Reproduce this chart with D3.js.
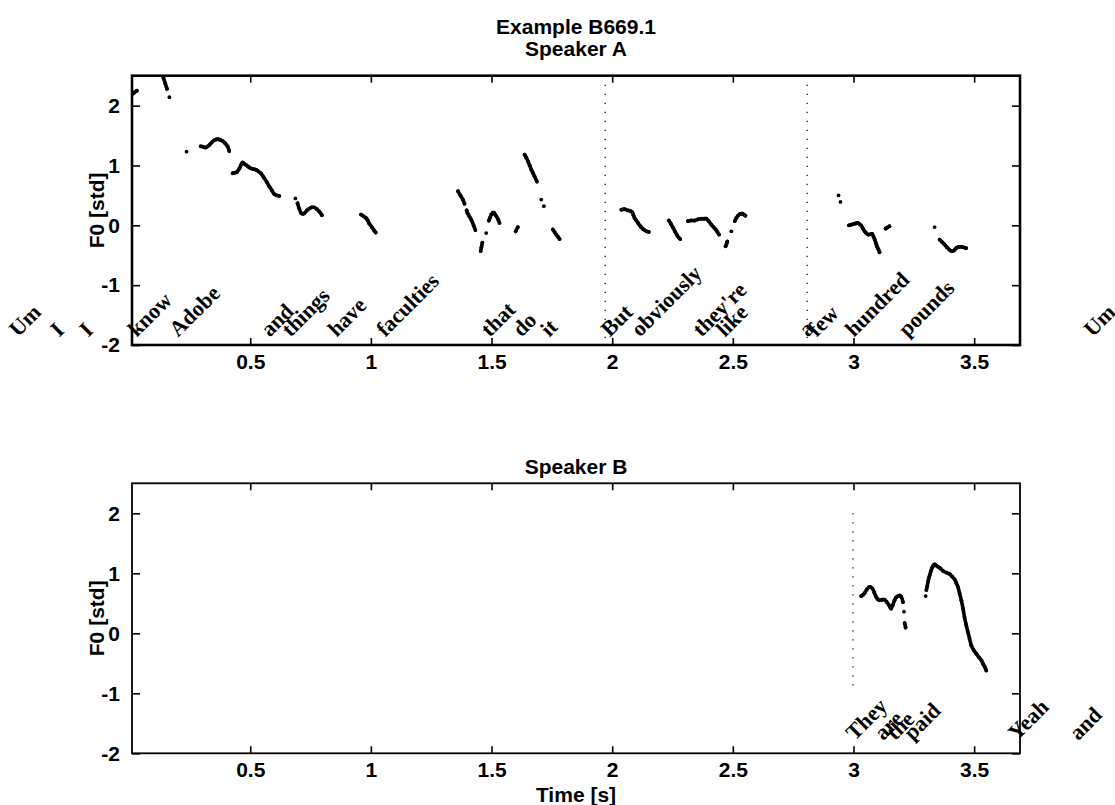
<!DOCTYPE html>
<html><head><meta charset="utf-8">
<script src="https://cdn.jsdelivr.net/npm/d3@7"></script>
<style>body{margin:0;background:#fff}</style></head><body>
<svg id="c" width="1115" height="805"></svg>
<script>
// ---------- data ----------
const xDomain = [0.01, 3.69];
const yDomain = [-2, 2.5];
const xTicks = [0.5, 1, 1.5, 2, 2.5, 3, 3.5];
const yTicks = [-2, -1, 0, 1, 2];

const wordsA = ["Um","I","I","know","Adobe","and","things","have","faculties","that","do","it","But","obviously","they're","like","a","few","hundred","pounds","Um"];
const wordTimesA = [-0.462,-0.292,-0.171,0.03,0.201,0.581,0.667,0.858,1.059,1.493,1.624,1.739,1.99,2.115,2.37,2.467,2.81,2.847,3.002,3.223,3.991];
const wordsB = ["They","are","the","paid","Yeah","and"];
const wordTimesB = [3.005,3.123,3.172,3.245,3.678,3.931];

const boundariesA = [1.971, 2.808];
const boundaryRangeA = [-2, 2.35];
const boundariesB = [2.998];
const boundaryRangeB = [-1, 2];

const f0A = [
 [[0.01,2.19],[0.02,2.22],[0.03,2.25]],
 [[0.13,2.6],[0.14,2.47],[0.147,2.38],[0.155,2.28]],
 [[0.165,2.14]],
 [[0.236,1.23]],
 [[0.295,1.32],[0.305,1.31],[0.316,1.30],[0.33,1.34],[0.344,1.40],[0.355,1.43],[0.365,1.44],[0.375,1.43],[0.385,1.41],[0.396,1.37],[0.406,1.32],[0.413,1.24]],
 [[0.427,0.87],[0.437,0.88],[0.445,0.89],[0.455,0.95],[0.462,1.01],[0.468,1.05],[0.475,1.03],[0.482,1.01],[0.492,0.98],[0.503,0.95],[0.513,0.94],[0.523,0.93],[0.534,0.90],[0.544,0.87],[0.551,0.83],[0.558,0.79],[0.569,0.72],[0.579,0.65],[0.59,0.58],[0.6,0.52],[0.61,0.50],[0.62,0.49]],
 [[0.687,0.45]],
 [[0.696,0.37],[0.703,0.28],[0.71,0.21],[0.717,0.19],[0.724,0.20],[0.735,0.25],[0.745,0.28],[0.755,0.30],[0.765,0.30],[0.776,0.27],[0.786,0.23],[0.797,0.17]],
 [[0.959,0.18],[0.97,0.15],[0.98,0.12],[0.987,0.08],[0.993,0.03],[1.004,-0.03],[1.014,-0.09],[1.02,-0.12]],
 [[1.361,0.57],[1.371,0.50],[1.381,0.43],[1.388,0.36]],
 [[1.397,0.25],[1.40,0.21],[1.408,0.15],[1.416,0.095],[1.426,-0.005],[1.433,-0.08]],
 [[1.478,-0.13]],
 [[1.455,-0.43],[1.458,-0.37],[1.462,-0.29]],
 [[1.489,0.08],[1.494,0.13],[1.499,0.18],[1.505,0.21],[1.51,0.21],[1.515,0.18],[1.52,0.15],[1.527,0.10],[1.533,0.04]],
 [[1.60,-0.10],[1.609,-0.03]],
 [[1.637,1.18],[1.644,1.13],[1.651,1.07],[1.658,1.0],[1.665,0.93],[1.672,0.87],[1.678,0.82],[1.688,0.73]],
 [[1.706,0.43]],
 [[1.717,0.32]],
 [[1.754,-0.07],[1.761,-0.11],[1.768,-0.155],[1.775,-0.19],[1.782,-0.23]],
 [[2.038,0.26],[2.05,0.27],[2.065,0.25],[2.075,0.24],[2.083,0.22],[2.088,0.17],[2.093,0.12],[2.1,0.08],[2.107,0.04],[2.114,0.0],[2.12,-0.03],[2.127,-0.06],[2.134,-0.08],[2.143,-0.10],[2.152,-0.11]],
 [[2.235,0.08],[2.244,0.02],[2.252,-0.04],[2.26,-0.10],[2.268,-0.16],[2.275,-0.20],[2.282,-0.23]],
 [[2.314,0.07],[2.328,0.08],[2.342,0.08],[2.356,0.10],[2.37,0.11],[2.38,0.11],[2.39,0.11],[2.40,0.07],[2.411,0.01],[2.42,-0.03],[2.429,-0.07],[2.436,-0.11],[2.443,-0.155]],
 [[2.47,-0.35],[2.474,-0.31],[2.477,-0.27]],
 [[2.494,-0.10]],
 [[2.508,0.07],[2.514,0.12],[2.521,0.16],[2.53,0.19],[2.539,0.195],[2.546,0.18],[2.552,0.16]],
 [[2.938,0.50]],
 [[2.946,0.39]],
 [[2.981,0.0],[2.99,0.01],[2.998,0.02],[3.008,0.03],[3.018,0.04],[3.025,0.02],[3.032,-0.005],[3.039,-0.05],[3.046,-0.10],[3.053,-0.13],[3.06,-0.155],[3.069,-0.15],[3.078,-0.145],[3.083,-0.19],[3.088,-0.24],[3.093,-0.30],[3.097,-0.35],[3.103,-0.40],[3.108,-0.45]],
 [[3.133,-0.055],[3.141,-0.035],[3.149,-0.015]],
 [[3.336,-0.03]],
 [[3.357,-0.24],[3.367,-0.28],[3.377,-0.32],[3.388,-0.37],[3.398,-0.41],[3.405,-0.43],[3.412,-0.43],[3.419,-0.41],[3.426,-0.38],[3.436,-0.36],[3.447,-0.36],[3.457,-0.37],[3.467,-0.38]]
];

const f0B = [
 [[3.032,0.62],[3.039,0.64],[3.046,0.67],[3.055,0.73],[3.064,0.77],[3.071,0.77],[3.078,0.75],[3.085,0.69],[3.092,0.62],[3.1,0.57],[3.108,0.55],[3.118,0.56],[3.129,0.56],[3.138,0.52],[3.147,0.47],[3.152,0.43],[3.156,0.41],[3.163,0.47],[3.17,0.55],[3.177,0.60],[3.184,0.62],[3.191,0.63],[3.198,0.61],[3.205,0.52]],
 [[3.209,0.36]],
 [[3.212,0.17],[3.216,0.095]],
 [[3.299,0.62]],
 [[3.302,0.72],[3.305,0.78],[3.309,0.86],[3.312,0.92],[3.316,0.97],[3.321,1.04],[3.327,1.10],[3.331,1.13],[3.336,1.15],[3.343,1.13],[3.35,1.11],[3.36,1.08],[3.371,1.04],[3.385,1.01],[3.398,0.99],[3.408,0.95],[3.419,0.90],[3.426,0.84],[3.433,0.77],[3.44,0.66],[3.447,0.55],[3.454,0.41],[3.46,0.27],[3.467,0.14],[3.474,0.02],[3.481,-0.09],[3.488,-0.20],[3.498,-0.28],[3.509,-0.34],[3.52,-0.40],[3.53,-0.45],[3.537,-0.51],[3.544,-0.56],[3.55,-0.62]]
];

// ---------- drawing ----------
const svg = d3.select("#c");
const L = 132, R = 1020;
const SANS = "'Liberation Sans', Arial, Helvetica, sans-serif";
const SERIF = "'Liberation Serif', 'Times New Roman', serif";

function panel(id, top, bottom, segs, words, times, bounds, bRange, wordY, frameW, titleLines, titleY) {
  const x = d3.scaleLinear().domain(xDomain).range([L, R]);
  const y = d3.scaleLinear().domain(yDomain).range([bottom, top]);
  const g = svg.append("g");

  g.append("clipPath").attr("id", "clip" + id)
    .append("rect").attr("x", L).attr("y", top).attr("width", R - L).attr("height", bottom - top);

  // axes (inward ticks)
  const ax = g.append("g").attr("transform", `translate(0,${bottom})`)
    .call(d3.axisBottom(x).tickValues(xTicks).tickSize(-7).tickPadding(9).tickFormat(d => String(d)));
  const axT = g.append("g").attr("transform", `translate(0,${top})`)
    .call(d3.axisTop(x).tickValues(xTicks).tickSize(-7).tickFormat(""));
  const ayL = g.append("g").attr("transform", `translate(${L},0)`)
    .call(d3.axisLeft(y).tickValues(yTicks).tickSize(-8).tickPadding(12).tickFormat(d => String(d)));
  const ayR = g.append("g").attr("transform", `translate(${R},0)`)
    .call(d3.axisRight(y).tickValues(yTicks).tickSize(-8).tickFormat(""));
  [ax, axT, ayL, ayR].forEach(a => {
    a.select(".domain").remove();
    a.selectAll(".tick line").attr("stroke", "#000").attr("stroke-width", 1.6);
    a.selectAll(".tick text").attr("fill", "#000")
      .style("font-family", SANS).style("font-size", "21px").style("font-weight", "bold");
  });

  // boundary dotted lines
  g.selectAll(null).data(bounds).enter().append("line")
    .attr("x1", d => x(d)).attr("x2", d => x(d))
    .attr("y1", y(bRange[1])).attr("y2", y(bRange[0]))
    .attr("stroke", "#000").attr("stroke-width", 1.2).attr("stroke-dasharray", "1.2,7.8");

  // F0 contours
  const dg = g.append("g").attr("clip-path", `url(#clip${id})`);
  const line = d3.line().x(d => x(d[0])).y(d => y(d[1])).curve(d3.curveCatmullRom);
  dg.selectAll("path.seg").data(segs.filter(s => s.length > 1)).enter().append("path")
    .attr("class", "seg").attr("d", line)
    .attr("fill", "none").attr("stroke", "#000").attr("stroke-width", 3.6)
    .attr("stroke-linecap", "round").attr("stroke-linejoin", "round");
  dg.selectAll("circle").data(segs.flat()).enter().append("circle")
    .attr("cx", d => x(d[0])).attr("cy", d => y(d[1])).attr("r", 1.9).attr("fill", "#000");

  // frame
  g.append("rect").attr("x", L).attr("y", top).attr("width", R - L).attr("height", bottom - top)
    .attr("fill", "none").attr("stroke", "#000").attr("stroke-width", frameW);

  // words
  g.selectAll("text.word").data(words).enter().append("text")
    .attr("class", "word")
    .attr("transform", (d, i) => `translate(${x(times[i])},${y(wordY)}) rotate(-45)`)
    .style("font-family", SERIF).style("font-size", "22px").style("font-weight", "bold")
    .attr("fill", "#000").text(d => d);

  // ylabel
  g.append("text").attr("transform", `translate(104,${(top + bottom) / 2}) rotate(-90)`)
    .attr("text-anchor", "middle")
    .style("font-family", SANS).style("font-size", "21px").style("font-weight", "bold")
    .text("F0 [std]");

  // title (one text, stacked lines)
  const tt = g.append("text").attr("x", (L + R) / 2).attr("y", titleY).attr("text-anchor", "middle")
    .style("font-family", SANS).style("font-size", "21px").style("font-weight", "bold");
  titleLines.forEach((t, i) => {
    tt.append("tspan").attr("x", (L + R) / 2).attr("dy", i === 0 ? 0 : 22).text(t);
  });
  return {x, y};
}

panel("A", 75.7, 345, f0A, wordsA, wordTimesA, boundariesA, boundaryRangeA, -1.88, 2.6,
  ["Example B669.1", "Speaker A"], 34);
panel("B", 483.3, 753.3, f0B, wordsB, wordTimesB, boundariesB, boundaryRangeB, -1.8, 1.8,
  ["Speaker B"], 474);

svg.append("text").attr("x", (L + R) / 2).attr("y", 802).attr("text-anchor", "middle")
  .style("font-family", SANS).style("font-size", "21px").style("font-weight", "bold")
  .text("Time [s]");
</script>
</body></html>
